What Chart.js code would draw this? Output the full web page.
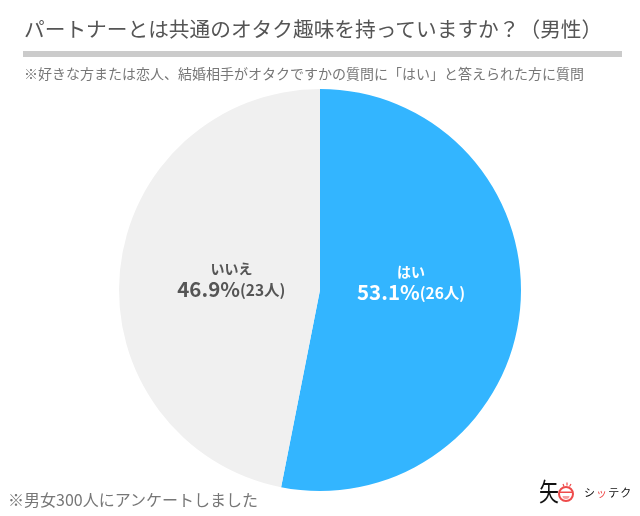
<!DOCTYPE html>
<html lang="ja">
<head>
<meta charset="utf-8">
<script src="https://cdn.jsdelivr.net/npm/chart.js@4"></script>
<style>
  html, body { margin:0; padding:0; background:#fff; }
  body { width:640px; height:516px; position:relative; overflow:hidden; font-family:"Noto Sans CJK JP", sans-serif; }
  #pie { position:absolute; left:0; top:0; }
  .txt { position:absolute; white-space:nowrap; line-height:1; }
  #title { left:24px; top:18px; font-size:20.7px; color:#555; }
  #rule { position:absolute; left:23px; top:51px; width:599px; height:6px; background:#cbcbcb; }
  #sub { left:24px; top:66px; font-size:14px; color:#777; }
  #note { left:8px; top:491px; font-size:16px; color:#777; }
  #logoA { left:539px; top:478px; font-size:20px; color:#111; transform:scaleY(1.25); transform-origin:top left; }
  #logoB { left:584px; top:487px; font-size:11px; letter-spacing:1.1px; color:#111; }
  #logoB span { color:#ee4b4b; }
  #face { position:absolute; left:556px; top:478px; }
</style>
</head>
<body>
<canvas id="pie" width="640" height="516"></canvas>
<div class="txt" id="title">パートナーとは共通のオタク趣味を持っていますか？（男性）</div>
<div id="rule"></div>
<div class="txt" id="sub">※好きな方または恋人、結婚相手がオタクですかの質問に「はい」と答えられた方に質問</div>
<div class="txt" id="note">※男女300人にアンケートしました</div>
<div class="txt" id="logoA">矢</div>
<svg id="face" width="22" height="26" viewBox="0 0 22 26">
  <circle cx="10" cy="16" r="7" fill="#fff" stroke="#ee4b4b" stroke-width="2"/>
  <path d="M4 13.5 h12 v1.5 h-12z" fill="#ee4b4b"/>
  <path d="M6.5 18 h7 a3.5 3 0 0 1 -7 0z" fill="#f6a0a0"/>
  <path d="M7 6l1 2.5M11 4.5v3M15 6l-1.5 2.5" stroke="#ee4b4b" stroke-width="1.2"/>
</svg>
<div class="txt" id="logoB">シ<span>ッ</span>テク</div>
<script>
  const categories = ['はい', 'いいえ'];
  const percents = [53.1, 46.9];
  const counts = [26, 23];
  const colors = ['#33b5ff', '#f0f0f0'];
  const labelColors = ['#ffffff', '#555555'];
  const labelShiftX = [0.5, 2];
  const labelShiftY = [2, -1];

  // 各スライスの中にラベルを描く
  const sliceLabels = {
    id: 'sliceLabels',
    afterDatasetsDraw(chart){
      const { ctx } = chart;
      const bigFont = '700 20.5px "Noto Sans CJK JP"';
      const smallFont = '700 15.5px "Noto Sans CJK JP"';
      chart.getDatasetMeta(0).data.forEach((arc, i) => {
        const mid = (arc.startAngle + arc.endAngle) / 2;
        const x = arc.x + Math.cos(mid) * arc.outerRadius * 0.453 + labelShiftX[i];
        const y = arc.y + labelShiftY[i];
        const big = `${percents[i]}%`;
        const small = `(${counts[i]}人)`;
        ctx.save();
        ctx.fillStyle = labelColors[i];
        ctx.textBaseline = 'middle';
        ctx.textAlign = 'center';
        ctx.font = '700 14px "Noto Sans CJK JP"';
        ctx.fillText(categories[i], x, y - 20);
        ctx.font = bigFont;
        const w1 = ctx.measureText(big).width;
        ctx.font = smallFont;
        const w2 = ctx.measureText(small).width;
        const left = x - (w1 + w2) / 2;
        ctx.textAlign = 'left';
        ctx.font = bigFont;
        ctx.fillText(big, left, y);
        ctx.font = smallFont;
        ctx.fillText(small, left + w1, y + 1);
        ctx.restore();
      });
    }
  };

  new Chart(document.getElementById('pie').getContext('2d'), {
    type: 'pie',
    data: {
      labels: categories,
      datasets: [{ data: percents, backgroundColor: colors, borderWidth: 0 }]
    },
    options: {
      responsive: false,
      animation: false,
      layout: { padding: { top: 89, bottom: 25 } },
      plugins: { legend: { display: false }, tooltip: { enabled: false } }
    },
    plugins: [sliceLabels]
  });
</script>
</body>
</html>
